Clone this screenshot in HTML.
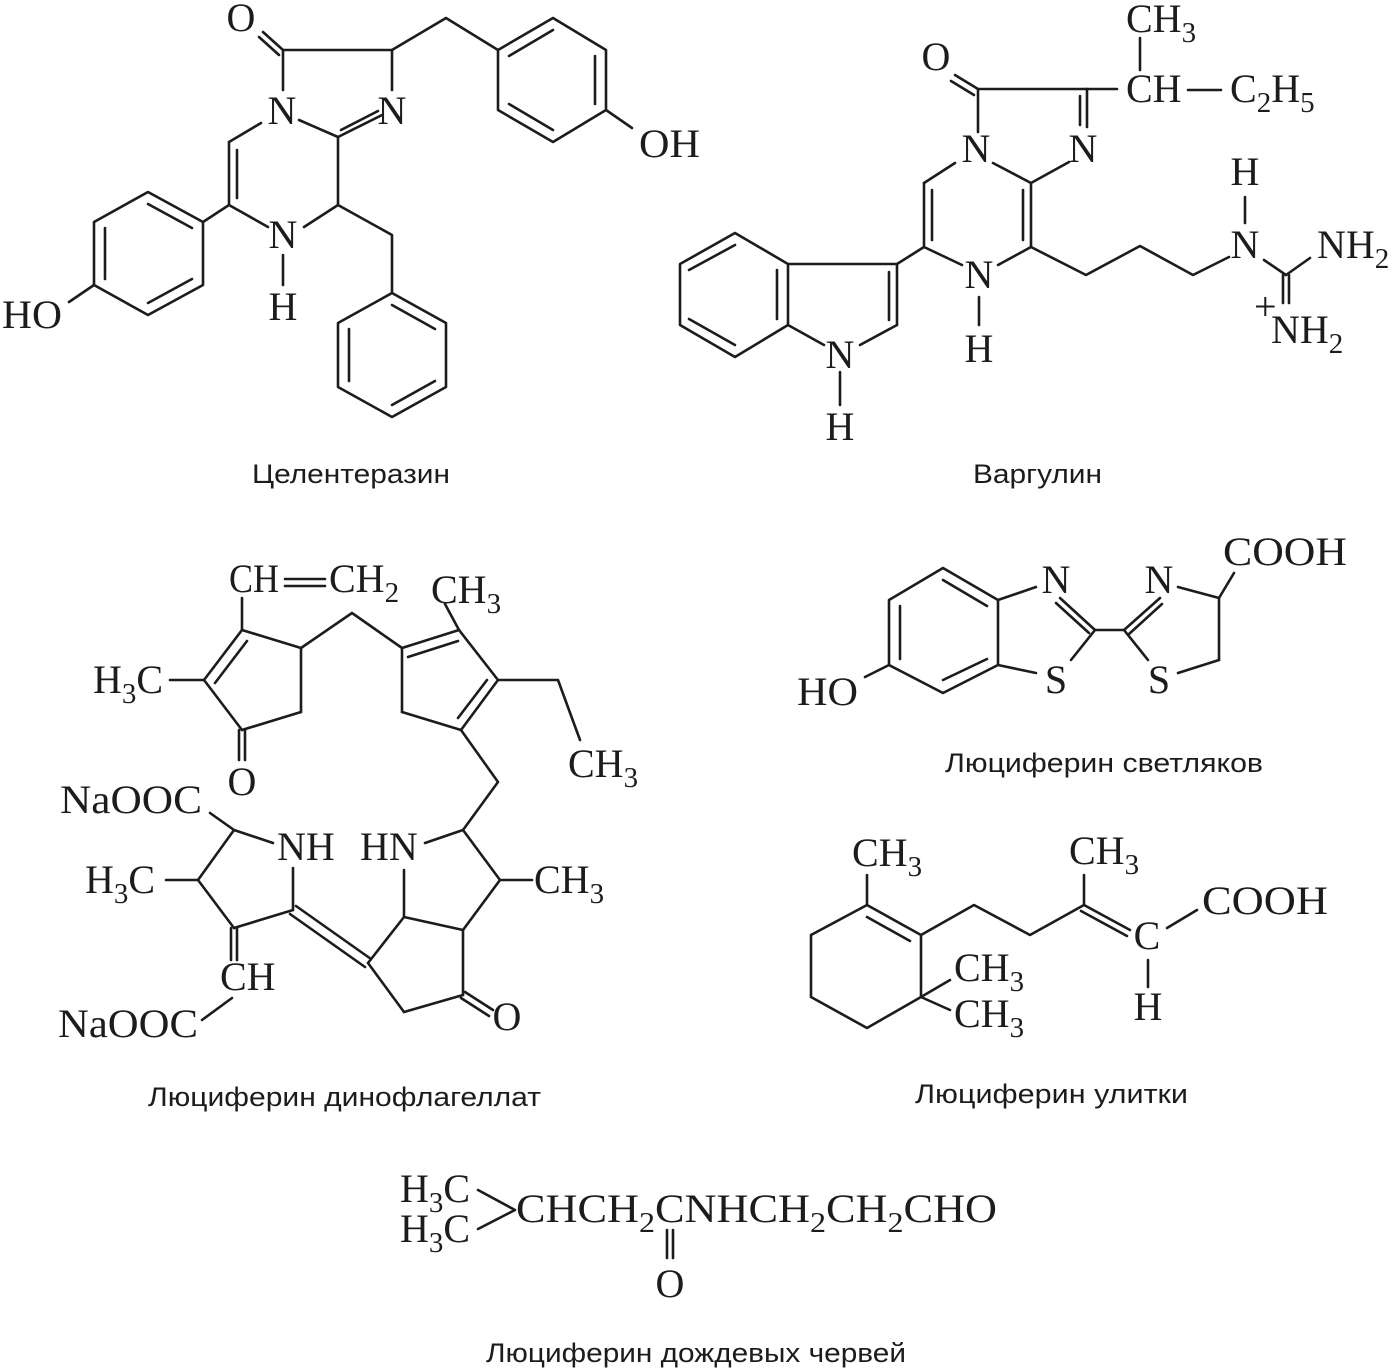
<!DOCTYPE html>
<html><head><meta charset="utf-8"><style>
html,body{margin:0;padding:0;background:#fff}
svg{display:block}
.s{font-family:"Liberation Serif",serif;font-size:40px;fill:#1c1c1c}
.l{font-family:"Liberation Sans",sans-serif;font-size:27px;fill:#1c1c1c}
.m{text-anchor:middle}
line,polyline,polygon{stroke:#1c1c1c;stroke-width:2.6;fill:none;stroke-linecap:round;stroke-linejoin:round}
</style></head><body>
<svg width="1396" height="1371" viewBox="0 0 1396 1371" xmlns="http://www.w3.org/2000/svg">
<!-- ===== Coelenterazine ===== -->
<line x1="263" y1="32" x2="283" y2="50"/><line x1="259" y1="37" x2="279" y2="55"/>
<line x1="283" y1="50" x2="392" y2="50"/>
<line x1="283" y1="50" x2="283" y2="90"/>
<line x1="392" y1="50" x2="392" y2="90"/>
<line x1="299" y1="120" x2="338" y2="137"/>
<line x1="338" y1="137" x2="382" y2="115"/><line x1="341" y1="130" x2="378" y2="111"/>
<line x1="261" y1="123" x2="229" y2="142"/>
<line x1="229" y1="142" x2="229" y2="205"/><line x1="237" y1="150" x2="237" y2="198"/>
<line x1="229" y1="205" x2="268" y2="227"/>
<line x1="304" y1="227" x2="338" y2="205"/>
<line x1="338" y1="137" x2="338" y2="205"/>
<line x1="283" y1="255" x2="283" y2="285"/>
<polyline points="338,205 392,235 392,293"/>
<polygon points="392,293 446,323 446,387 392,417 338,387 338,323"/>
<line x1="392" y1="305" x2="435" y2="329"/><line x1="435" y1="381" x2="392" y2="405"/><line x1="349" y1="381" x2="349" y2="329"/>
<line x1="229" y1="205" x2="203" y2="222"/>
<polygon points="203,222 203,285 148,315 94,285 94,222 148,192"/>
<line x1="148" y1="204" x2="192" y2="228"/><line x1="192" y1="279" x2="148" y2="303"/><line x1="105" y1="228" x2="105" y2="279"/>
<line x1="94" y1="285" x2="69" y2="302"/>
<polyline points="392,50 446,18 498,50"/>
<polygon points="498,50 553,18 606,50 606,110 553,142 498,110"/>
<line x1="509" y1="56" x2="553" y2="30"/><line x1="595" y1="56" x2="595" y2="104"/><line x1="553" y1="130" x2="509" y2="104"/>
<line x1="606" y1="110" x2="632" y2="128"/>
<text class="s m" x="241" y="31">O</text>
<text class="s m" x="282" y="124">N</text>
<text class="s m" x="392" y="124">N</text>
<text class="s m" x="283" y="248">N</text>
<text class="s m" x="283" y="320">H</text>
<text class="s" x="2" y="328" textLength="60" lengthAdjust="spacingAndGlyphs">HO</text>
<text class="s" x="639" y="157" textLength="61" lengthAdjust="spacingAndGlyphs">OH</text>
<text class="l" x="252" y="483" textLength="198" lengthAdjust="spacingAndGlyphs">Целентеразин</text>

<!-- ===== Vargulin ===== -->
<line x1="955" y1="75" x2="978" y2="89"/><line x1="951" y1="81" x2="974" y2="95"/>
<line x1="978" y1="89" x2="1086" y2="89"/>
<line x1="1086" y1="89" x2="1117" y2="89"/>
<line x1="1140" y1="38" x2="1140" y2="70"/>
<line x1="1188" y1="90" x2="1221" y2="90"/>
<line x1="1087" y1="89" x2="1087" y2="127"/><line x1="1080" y1="96" x2="1080" y2="125"/>
<line x1="978" y1="89" x2="978" y2="132"/>
<line x1="955" y1="163" x2="924" y2="183"/>
<line x1="993" y1="163" x2="1031" y2="183"/>
<line x1="1069" y1="162" x2="1031" y2="183"/>
<line x1="924" y1="183" x2="924" y2="247"/><line x1="932" y1="190" x2="932" y2="240"/>
<line x1="1031" y1="183" x2="1031" y2="247"/><line x1="1023" y1="190" x2="1023" y2="240"/>
<line x1="924" y1="247" x2="962" y2="265"/>
<line x1="1031" y1="247" x2="998" y2="265"/>
<line x1="979" y1="297" x2="979" y2="325"/>
<polyline points="1031,247 1086,275 1140,246 1193,275 1229,257"/>
<line x1="1245" y1="197" x2="1245" y2="223"/>
<line x1="1264" y1="260" x2="1286" y2="275"/>
<line x1="1286" y1="275" x2="1310" y2="258"/>
<line x1="1283" y1="275" x2="1283" y2="303"/><line x1="1289" y1="275" x2="1289" y2="303"/>
<line x1="924" y1="247" x2="897" y2="264"/>
<line x1="897" y1="264" x2="897" y2="325"/><line x1="889" y1="272" x2="889" y2="320"/>
<line x1="897" y1="325" x2="860" y2="345"/>
<line x1="824" y1="345" x2="788" y2="325"/>
<line x1="788" y1="264" x2="897" y2="264"/>
<polygon points="788,264 735,233 680,264 680,325 735,357 788,325"/>
<line x1="735" y1="245" x2="689" y2="270"/><line x1="777" y1="270" x2="777" y2="319"/><line x1="689" y1="319" x2="735" y2="345"/>
<line x1="840" y1="372" x2="840" y2="405"/>
<text class="s m" x="936" y="70">O</text>
<text class="s" x="1126" y="32">CH<tspan font-size="29" dy="10">3</tspan></text>
<text class="s" x="1126" y="102">CH</text>
<text class="s" x="1230" y="102">C<tspan font-size="29" dy="10">2</tspan><tspan dy="-10">H</tspan><tspan font-size="29" dy="10">5</tspan></text>
<text class="s m" x="976" y="162">N</text>
<text class="s m" x="1083" y="162">N</text>
<text class="s m" x="979" y="288">N</text>
<text class="s m" x="979" y="362">H</text>
<text class="s m" x="840" y="368">N</text>
<text class="s m" x="840" y="440">H</text>
<text class="s m" x="1245" y="185">H</text>
<text class="s m" x="1245" y="258">N</text>
<text class="s" x="1317" y="258">NH<tspan font-size="29" dy="10">2</tspan></text>
<text class="s" x="1254" y="320" font-size="22">+</text>
<text class="s" x="1271" y="343">NH<tspan font-size="29" dy="10">2</tspan></text>
<text class="l" x="973" y="483" textLength="129" lengthAdjust="spacingAndGlyphs">Варгулин</text>

<!-- ===== Dinoflagellate luciferin ===== -->
<line x1="285" y1="579" x2="325" y2="579"/><line x1="285" y1="586" x2="325" y2="586"/>
<line x1="242" y1="598" x2="242" y2="630"/>
<line x1="242" y1="630" x2="301" y2="648"/>
<line x1="242" y1="630" x2="204" y2="680"/><line x1="247" y1="641" x2="215" y2="683"/>
<line x1="204" y1="680" x2="170" y2="680"/>
<line x1="204" y1="680" x2="242" y2="730"/>
<line x1="239" y1="730" x2="239" y2="760"/><line x1="245" y1="730" x2="245" y2="760"/>
<line x1="242" y1="730" x2="301" y2="712"/>
<line x1="301" y1="712" x2="301" y2="648"/>
<polyline points="301,648 352,613 402,648"/>
<line x1="402" y1="648" x2="459" y2="630"/><line x1="408" y1="657" x2="458" y2="641"/>
<line x1="459" y1="630" x2="498" y2="680"/>
<line x1="498" y1="680" x2="461" y2="730"/><line x1="487" y1="680" x2="458" y2="718"/>
<line x1="461" y1="730" x2="402" y2="712"/>
<line x1="402" y1="712" x2="402" y2="648"/>
<line x1="459" y1="630" x2="445" y2="604"/>
<polyline points="498,680 558,680 580,740"/>
<polyline points="461,730 498,782 463,830"/>
<line x1="463" y1="830" x2="425" y2="843"/>
<line x1="463" y1="830" x2="500" y2="880"/>
<line x1="500" y1="880" x2="532" y2="880"/>
<line x1="500" y1="880" x2="463" y2="930"/>
<line x1="463" y1="930" x2="404" y2="917"/>
<line x1="404" y1="870" x2="404" y2="917"/>
<line x1="404" y1="917" x2="368" y2="963"/>
<line x1="463" y1="930" x2="463" y2="995"/>
<line x1="461" y1="998" x2="489" y2="1016"/><line x1="465" y1="992" x2="493" y2="1010"/>
<line x1="463" y1="995" x2="404" y2="1012"/>
<line x1="404" y1="1012" x2="368" y2="963"/>
<line x1="371" y1="959" x2="296" y2="906"/><line x1="365" y1="967" x2="290" y2="914"/>
<line x1="293" y1="910" x2="293" y2="868"/>
<line x1="273" y1="843" x2="234" y2="830"/>
<line x1="234" y1="830" x2="210" y2="813"/>
<line x1="234" y1="830" x2="198" y2="880"/>
<line x1="198" y1="880" x2="166" y2="880"/>
<line x1="198" y1="880" x2="234" y2="928"/>
<line x1="234" y1="928" x2="293" y2="910"/>
<line x1="231" y1="928" x2="231" y2="960"/><line x1="237" y1="928" x2="237" y2="960"/>
<line x1="232" y1="998" x2="202" y2="1020"/>
<text class="s" x="229" y="592" textLength="50" lengthAdjust="spacingAndGlyphs">CH</text>
<text class="s" x="329" y="592">CH<tspan font-size="29" dy="10">2</tspan></text>
<text class="s" x="431" y="603">CH<tspan font-size="29" dy="10">3</tspan></text>
<text class="s" x="93" y="693">H<tspan font-size="29" dy="10">3</tspan><tspan dy="-10">C</tspan></text>
<text class="s m" x="242" y="795">O</text>
<text class="s" x="568" y="777">CH<tspan font-size="29" dy="10">3</tspan></text>
<text class="s" x="60" y="813" textLength="142" lengthAdjust="spacingAndGlyphs">NaOOC</text>
<text class="s" x="277" y="860">NH</text>
<text class="s" x="360" y="860">HN</text>
<text class="s" x="85" y="893">H<tspan font-size="29" dy="10">3</tspan><tspan dy="-10">C</tspan></text>
<text class="s" x="534" y="893">CH<tspan font-size="29" dy="10">3</tspan></text>
<text class="s" x="220" y="990">CH</text>
<text class="s m" x="507" y="1030">O</text>
<text class="s" x="58" y="1037" textLength="140" lengthAdjust="spacingAndGlyphs">NaOOC</text>
<text class="l" x="148" y="1106" textLength="393" lengthAdjust="spacingAndGlyphs">Люциферин динофлагеллат</text>

<!-- ===== Firefly luciferin ===== -->
<polygon points="943,568 998,600 998,665 943,693 889,665 889,600"/>
<line x1="943" y1="580" x2="987" y2="606"/><line x1="900" y1="606" x2="900" y2="659"/><line x1="987" y1="659" x2="943" y2="680"/>
<line x1="889" y1="665" x2="865" y2="677"/>
<line x1="998" y1="600" x2="1036" y2="587"/>
<line x1="1060" y1="598" x2="1095" y2="630"/><line x1="1056" y1="603" x2="1089" y2="633"/>
<line x1="1095" y1="630" x2="1071" y2="660"/>
<line x1="1036" y1="673" x2="998" y2="665"/>
<line x1="1095" y1="630" x2="1124" y2="630"/>
<line x1="1124" y1="630" x2="1160" y2="598"/><line x1="1129" y1="634" x2="1162" y2="604"/>
<line x1="1178" y1="587" x2="1219" y2="598"/>
<line x1="1219" y1="598" x2="1234" y2="573"/>
<line x1="1219" y1="598" x2="1219" y2="660"/>
<line x1="1219" y1="660" x2="1178" y2="673"/>
<line x1="1124" y1="630" x2="1148" y2="660"/>
<text class="s m" x="1056" y="593">N</text>
<text class="s m" x="1056" y="693">S</text>
<text class="s m" x="1159" y="593">N</text>
<text class="s m" x="1159" y="693">S</text>
<text class="s" x="1223" y="565" textLength="124" lengthAdjust="spacingAndGlyphs">COOH</text>
<text class="s" x="797" y="705" textLength="61" lengthAdjust="spacingAndGlyphs">HO</text>
<text class="l" x="945" y="772" textLength="318" lengthAdjust="spacingAndGlyphs">Люциферин светляков</text>

<!-- ===== Snail luciferin ===== -->
<line x1="867" y1="875" x2="867" y2="905"/>
<polygon points="867,905 921,935 921,997 867,1028 811,997 811,935"/>
<line x1="867" y1="917" x2="910" y2="941"/>
<line x1="921" y1="997" x2="950" y2="980"/>
<line x1="921" y1="997" x2="950" y2="1010"/>
<polyline points="921,935 974,905 1030,935 1084,905"/>
<line x1="1084" y1="905" x2="1084" y2="875"/>
<line x1="1084" y1="905" x2="1130" y2="930"/><line x1="1081" y1="911" x2="1127" y2="936"/>
<line x1="1167" y1="928" x2="1197" y2="910"/>
<line x1="1148" y1="960" x2="1148" y2="987"/>
<text class="s" x="852" y="866">CH<tspan font-size="29" dy="10">3</tspan></text>
<text class="s" x="954" y="981">CH<tspan font-size="29" dy="10">3</tspan></text>
<text class="s" x="954" y="1027">CH<tspan font-size="29" dy="10">3</tspan></text>
<text class="s" x="1069" y="864">CH<tspan font-size="29" dy="10">3</tspan></text>
<text class="s" x="1202" y="914" textLength="126" lengthAdjust="spacingAndGlyphs">COOH</text>
<text class="s m" x="1147" y="949">C</text>
<text class="s m" x="1148" y="1020">H</text>
<text class="l" x="915" y="1103" textLength="273" lengthAdjust="spacingAndGlyphs">Люциферин улитки</text>

<!-- ===== Earthworm luciferin ===== -->
<text class="s" x="400" y="1202">H<tspan font-size="29" dy="10">3</tspan><tspan dy="-10">C</tspan></text>
<text class="s" x="400" y="1242">H<tspan font-size="29" dy="10">3</tspan><tspan dy="-10">C</tspan></text>
<polyline points="478,1190 515,1210 478,1229"/>
<text class="s" x="516" y="1222" textLength="481" lengthAdjust="spacingAndGlyphs">CHCH<tspan font-size="29" dy="10">2</tspan><tspan dy="-10">CNHCH</tspan><tspan font-size="29" dy="10">2</tspan><tspan dy="-10">CH</tspan><tspan font-size="29" dy="10">2</tspan><tspan dy="-10">CHO</tspan></text>
<line x1="667" y1="1230" x2="667" y2="1258"/><line x1="673" y1="1230" x2="673" y2="1258"/>
<text class="s m" x="670" y="1297">O</text>
<text class="l" x="486" y="1362" textLength="420" lengthAdjust="spacingAndGlyphs">Люциферин дождевых червей</text>
</svg>
</body></html>
